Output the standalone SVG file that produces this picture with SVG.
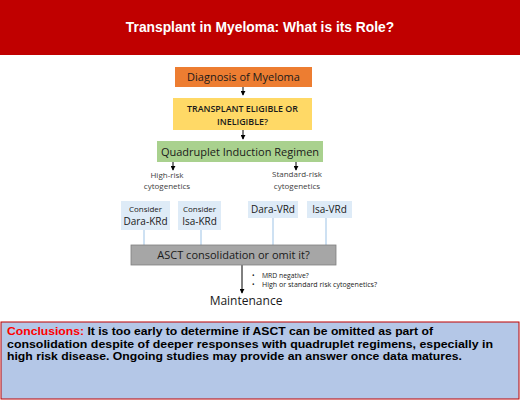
<svg xmlns="http://www.w3.org/2000/svg" width="520" height="400" viewBox="0 0 520 400">
<style>
.c{font-family:"Open Sans","Liberation Sans",sans-serif;fill:#1a1a1a;text-anchor:middle}
.s{font-family:"Open Sans","Liberation Sans",sans-serif;fill:#404040;text-anchor:middle;font-size:8px}
.t{font-family:"Open Sans","Liberation Sans",sans-serif;fill:#1a1a1a;font-size:6.8px}
.ar{stroke:#000;stroke-width:1;fill:none}
.bl{stroke:#9DC3E6;stroke-width:1;fill:none}
.b{font-family:"Liberation Sans",Arial,sans-serif;font-weight:bold;font-size:11.5px;fill:#000}
</style>
<defs>
<marker id="ah" viewBox="0 0 6 6" refX="5" refY="3" markerWidth="5" markerHeight="5" orient="auto" markerUnits="userSpaceOnUse">
<path d="M0,0 L6,3 L0,6 Z" fill="#000"/>
</marker>
</defs>
<g id="header">
<rect x="0" y="0" width="520" height="55" fill="#C00000"/>
<text x="260" y="32" text-anchor="middle" font-family="Liberation Sans,Arial,sans-serif" font-weight="bold" font-size="13.8" fill="#fff">Transplant in Myeloma: What is its Role?</text>
</g>
<g id="connectors">
<line class="ar" x1="243" y1="87" x2="243" y2="95" marker-end="url(#ah)"/>
<line class="ar" x1="243" y1="130" x2="243" y2="139" marker-end="url(#ah)"/>
<line class="ar" x1="173" y1="162" x2="173" y2="170" marker-end="url(#ah)"/>
<line class="ar" x1="296" y1="162" x2="296" y2="170" marker-end="url(#ah)"/>
<line class="bl" x1="144" y1="230" x2="144" y2="245"/>
<line class="bl" x1="201" y1="230" x2="201" y2="245"/>
<line class="bl" x1="273" y1="218" x2="273" y2="245"/>
<line class="bl" x1="326" y1="218" x2="326" y2="245"/>
<line class="ar" x1="242" y1="265" x2="242" y2="293" marker-end="url(#ah)"/>
</g>
<g id="diagnosis">
<rect x="175" y="67" width="137" height="20" fill="#ED7D31"/>
<text class="c" x="243.5" y="81" font-size="11">Diagnosis of Myeloma</text>
</g>
<g id="eligible">
<rect x="173" y="98" width="139" height="32" fill="#FFD966"/>
<text class="c" x="242.5" y="111.5" font-size="8.9" font-weight="600">TRANSPLANT ELIGIBLE OR</text>
<text class="c" x="242.5" y="124.5" font-size="8.9" font-weight="600">INELIGIBLE?</text>
</g>
<g id="induction">
<rect x="157" y="141" width="166" height="21" fill="#A9D18E"/>
<text class="c" x="240" y="155.5" font-size="11">Quadruplet Induction Regimen</text>
</g>
<g id="high-risk">
<text class="s" x="167" y="178">High-risk</text>
<text class="s" x="167" y="189">cytogenetics</text>
</g>
<g id="standard-risk">
<text class="s" x="297" y="177">Standard-risk</text>
<text class="s" x="297" y="189">cytogenetics</text>
</g>
<g id="dara-krd">
<rect x="121" y="201" width="49" height="29" fill="#DEEBF7"/>
<text class="c" x="145.5" y="212" font-size="8">Consider</text>
<text class="c" x="145.5" y="224.5" font-size="10">Dara-KRd</text>
</g>
<g id="isa-krd">
<rect x="178" y="201" width="43" height="29" fill="#DEEBF7"/>
<text class="c" x="199.5" y="212" font-size="8">Consider</text>
<text class="c" x="199.5" y="224.5" font-size="10">Isa-KRd</text>
</g>
<g id="dara-vrd">
<rect x="248" y="201" width="50" height="17" fill="#DEEBF7"/>
<text class="c" x="273" y="213" font-size="10">Dara-VRd</text>
</g>
<g id="isa-vrd">
<rect x="307" y="201" width="45" height="17" fill="#DEEBF7"/>
<text class="c" x="329.5" y="213" font-size="10">Isa-VRd</text>
</g>
<g id="asct">
<rect x="131" y="245" width="205" height="20" fill="#A6A6A6" stroke="#7F7F7F" stroke-width="0.8"/>
<text class="c" x="233.5" y="259" font-size="11">ASCT consolidation or omit it?</text>
</g>
<g id="criteria">
<text class="t" x="252" y="278">•</text>
<text class="t" x="262" y="278">MRD negative?</text>
<text class="t" x="252" y="287">•</text>
<text class="t" x="262" y="287" textLength="115" lengthAdjust="spacingAndGlyphs">High or standard risk cytogenetics?</text>
</g>
<g id="maintenance">
<text class="c" x="246" y="305" font-size="12">Maintenance</text>
</g>
<g id="conclusions">
<rect x="1" y="322" width="518" height="77" fill="#B4C7E7" stroke="#C00000" stroke-width="1"/>
<text class="b" x="7" y="335" textLength="426" lengthAdjust="spacingAndGlyphs"><tspan fill="#FF0000">Conclusions:</tspan> It is too early to determine if ASCT can be omitted as part of</text>
<text class="b" x="7" y="347.5" textLength="486" lengthAdjust="spacingAndGlyphs">consolidation despite of deeper responses with quadruplet regimens, especially in</text>
<text class="b" x="7" y="360" textLength="455" lengthAdjust="spacingAndGlyphs">high risk disease. Ongoing studies may provide an answer once data matures.</text>
</g>
</svg>
